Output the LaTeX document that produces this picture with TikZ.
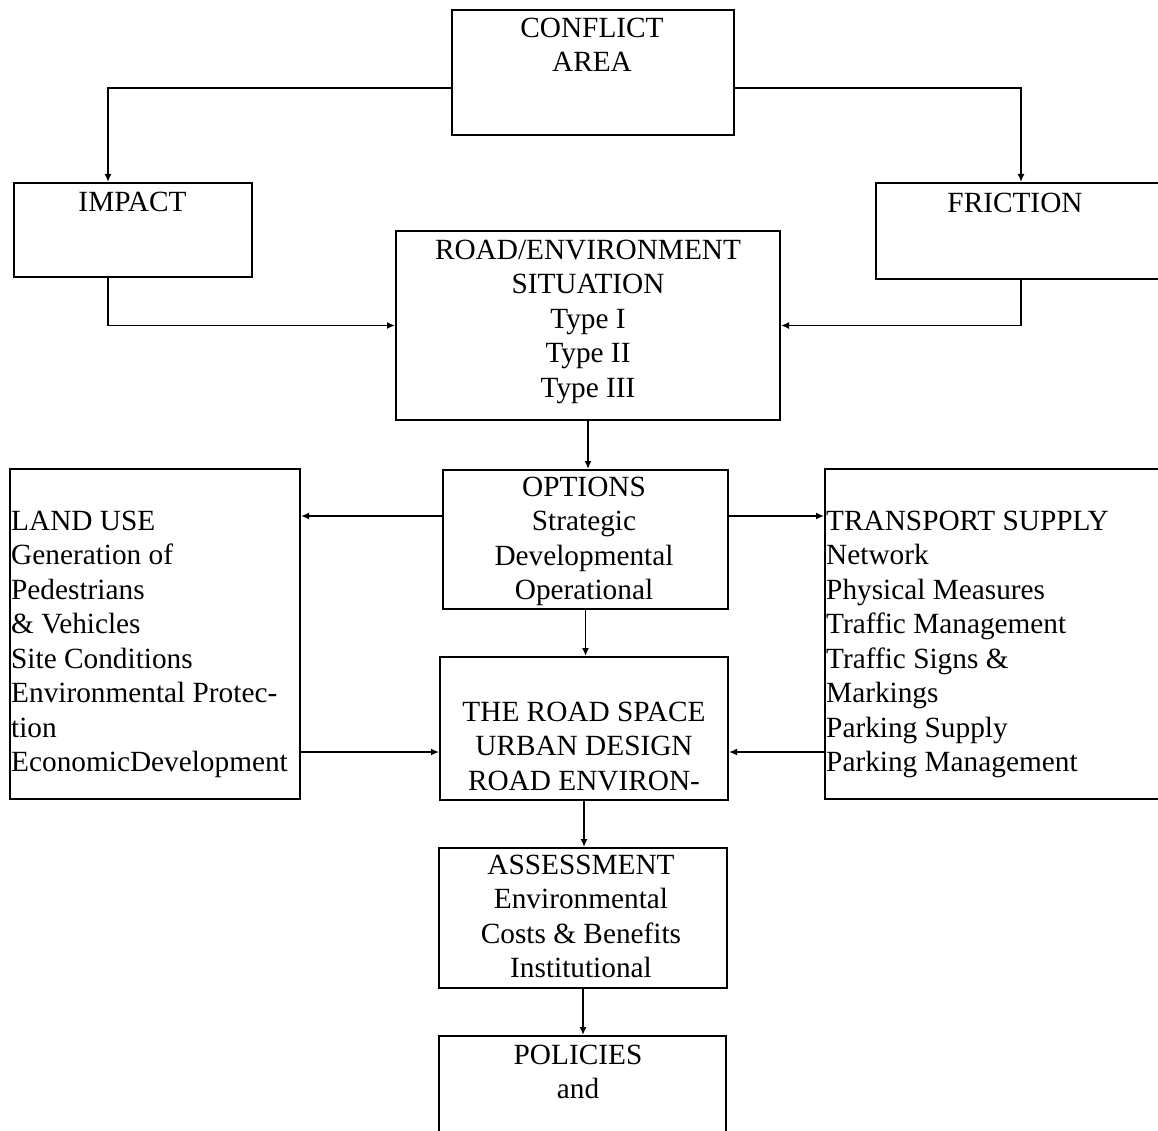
\documentclass[tikz,border=0pt]{standalone}
\usepackage{fontspec}
\setmainfont{Liberation Serif}
\usetikzlibrary{arrows.meta}
\newcommand{\fs}{\rule{0pt}{22pt}}
\begin{document}
\begin{tikzpicture}[x=1pt,y=-1pt,
 box/.style={draw, line width=2pt, rectangle, inner sep=0pt, anchor=center},
 txt/.style={inner sep=0pt, anchor=north, align=center, font=\fontsize{29.3}{34.5}\selectfont},
 ltxt/.style={inner sep=0pt, anchor=north west, align=left, font=\fontsize{29.3}{34.5}\selectfont},
 arr/.style={line width=1.6pt, -{Latex[length=8pt,width=7pt]}}]
\useasboundingbox (0,0) rectangle (1158,1131);
\fill[white] (0,0) rectangle (1158,1131);
\clip (0,0) rectangle (1158,1131);
% boxes
\node[box, minimum width=282pt, minimum height=125pt] (conf) at (593,72.5) {};
\node[box, minimum width=238pt, minimum height=94pt] (impact) at (133,230) {};
\node[box, minimum width=286pt, minimum height=96pt] (friction) at (1019,231) {};
\node[box, minimum width=384pt, minimum height=189pt] (sit) at (588,325.5) {};
\node[box, minimum width=285pt, minimum height=139pt] (options) at (585.5,539.5) {};
\node[box, minimum width=290pt, minimum height=330pt] (landuse) at (155,634) {};
\node[box, minimum width=337pt, minimum height=330pt] (transport) at (993.5,634) {};
\node[box, minimum width=288pt, minimum height=143pt] (roadspace) at (584,728.5) {};
\node[box, minimum width=288pt, minimum height=140pt] (assess) at (583,918) {};
\node[box, minimum width=287pt, minimum height=99pt] (policies) at (582.5,1085.5) {};
% texts
\node[txt] (tconf) at (592,15) {\fs CONFLICT\\AREA};
\node[txt] (timpact) at (132.5,189) {\fs IMPACT};
\node[txt] (tfriction) at (1015,190) {\fs FRICTION};
\node[txt] (tsit) at (588,237) {\fs ROAD/ENVIRONMENT\\SITUATION\\Type I\\Type II\\Type III};
\node[txt] (toptions) at (584,474) {\fs OPTIONS\\Strategic\\Developmental\\Operational};
\node[ltxt] (tlanduse) at (11,508) {\fs LAND USE\\Generation of\\Pedestrians\\\& Vehicles\\Site Conditions\\Environmental Protec-\\tion\\EconomicDevelopment};
\node[ltxt] (ttransport) at (826,508) {\fs TRANSPORT SUPPLY\\Network\\Physical Measures\\Traffic Management\\Traffic Signs \&\\Markings\\Parking Supply\\Parking Management};
\node[txt] (troadspace) at (584,699) {\fs THE ROAD SPACE\\URBAN DESIGN\\ROAD ENVIRON-};
\node[txt] (tassess) at (581,852) {\fs ASSESSMENT\\Environmental\\Costs \& Benefits\\Institutional};
\node[txt] (tpolicies) at (578,1042) {\fs POLICIES\\and};
% connectors
\draw[arr] ([yshift=-15.5pt]conf.west) -| ([xshift=-25pt]impact.north);
\draw[arr] ([yshift=-15.5pt]conf.east) -| ([xshift=2pt]friction.north);
\draw[arr] ([xshift=-25pt]impact.south) |- (sit.west);
\draw[arr] ([xshift=2pt]friction.south) |- (sit.east);
\draw[arr] (sit.south) -- (sit.south |- options.north);
\coordinate (ow) at ([yshift=23.5pt]options.west);
\coordinate (oe) at ([yshift=23.5pt]options.east);
\draw[arr] (ow) -- (ow -| landuse.east);
\draw[arr] (oe) -- (oe -| transport.west);
\draw[arr] (options.south) -- (options.south |- roadspace.north);
\coordinate (rw) at ([yshift=-23.5pt]roadspace.west);
\coordinate (re) at ([yshift=-23.5pt]roadspace.east);
\draw[arr] (landuse.east |- rw) -- (rw);
\draw[arr] (transport.west |- re) -- (re);
\draw[arr] (roadspace.south) -- (roadspace.south |- assess.north);
\draw[arr] (assess.south) -- (assess.south |- policies.north);
\end{tikzpicture}
\end{document}
